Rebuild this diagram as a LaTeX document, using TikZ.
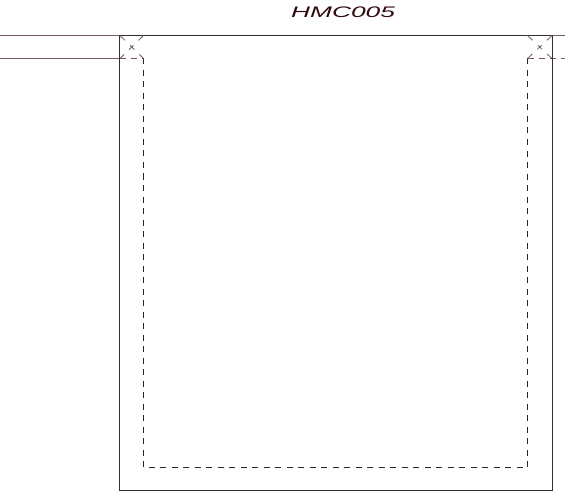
\documentclass[tikz,border=0pt]{standalone}
\usepackage{fontspec}
\setmainfont{Liberation Sans}
\definecolor{wallcol}{HTML}{303030}
\definecolor{gridcol}{HTML}{7A5A5A}
\definecolor{titlecol}{HTML}{300810}
\begin{document}
\begin{tikzpicture}[
x=1pt,y=-1pt,
wall/.style={draw=wallcol, line width=1pt},
grid/.style={draw=gridcol, line width=1pt},
inner/.style={draw=black!85, line width=1pt, dash pattern=on 6pt off 5.5pt},
miter/.style={draw=gridcol, line width=0.8pt, dash pattern=on 7pt off 7pt on 6pt off 7pt on 7pt off 10pt},
]
\useasboundingbox (0,0) rectangle (565,492);

%Title
\node[text=titlecol, font=\itshape, xscale=1.72, inner sep=0pt] (title) at (343,12.5) {\fontsize{15.3pt}{17pt}\selectfont HMC005};

%Grid lines
\draw[grid] (0,35.5) -- (120,35.5);
\draw[grid] (0,58.5) -- (120,58.5);
\draw[grid] (552,35.5) -- (565,35.5);
\draw[grid, dash pattern=on 6pt off 5pt] (527.5,58.5) -- (565,58.5);
\draw[grid, dash pattern=on 6pt off 5pt] (120,58.5) -- (143.5,58.5);

%Outer wall
\draw[wall] (119.5,35.5) rectangle (552,490.5);

%Inner dashed line
\draw[inner] (143.5,58.5) -- (143.5,467.5) -- (527.5,467.5) -- (527.5,58.5);

%Corners
\draw[miter] (120,35.5) -- (143.5,58.5);
\draw[miter] (143.5,35.5) -- (120,58.5);
\draw[miter] (527.5,35.5) -- (552,58.5);
\draw[miter] (552,35.5) -- (527.5,58.5);

\end{tikzpicture}
\end{document}
